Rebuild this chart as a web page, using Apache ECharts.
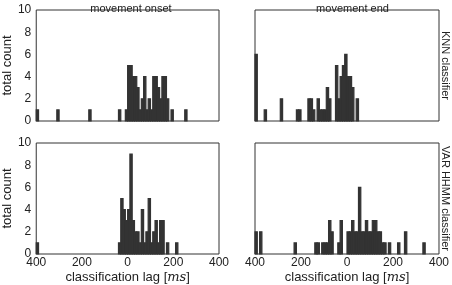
<!DOCTYPE html>
<html>
<head>
<meta charset="utf-8">
<script src="https://cdn.jsdelivr.net/npm/echarts@6/dist/echarts.min.js"></script>
<style>
  html, body { margin: 0; padding: 0; background: #fff; }
  #hist { width: 452px; height: 285px; }
</style>
</head>
<body>
<div id="hist"></div>
<script>
// histogram bins: left edge of each bin in ms, bin width 10 ms
var binWidth = 10;

var knnOnsetBins   = [-400, -310, -170, -40, -10, 0, 10, 20, 30, 40, 50, 60, 70, 80, 90, 100, 110, 120, 130, 140, 150, 160, 170, 190, 250];
var knnOnsetCounts = [1, 1, 1, 1, 1, 5, 5, 4, 4, 3, 1, 2, 4, 1, 2, 1, 4, 4, 3, 2, 4, 4, 2, 1, 1];

var knnEndBins   = [-400, -360, -290, -220, -210, -170, -160, -150, -130, -120, -110, -100, -90, -80, -50, -40, -30, -20, -10, 0, 10, 20, 40];
var knnEndCounts = [6, 1, 2, 1, 1, 2, 2, 1, 2, 1, 1, 1, 3, 2, 5, 2, 4, 5, 6, 4, 4, 3, 2];

var varOnsetBins   = [-400, -40, -30, -20, -10, 0, 10, 20, 30, 40, 50, 60, 70, 80, 90, 100, 110, 120, 130, 140, 150, 170, 210];
var varOnsetCounts = [1, 1, 5, 4, 3, 4, 9, 3, 2, 2, 1, 4, 1, 2, 5, 1, 2, 3, 1, 3, 3, 1, 1];

var varEndBins   = [-400, -380, -230, -140, -130, -110, -100, -90, -80, -70, -40, -30, 0, 10, 20, 30, 40, 50, 60, 70, 80, 90, 100, 110, 120, 130, 140, 150, 160, 180, 220, 250, 330];
var varEndCounts = [2, 2, 1, 1, 1, 1, 1, 1, 3, 2, 1, 3, 2, 2, 3, 2, 2, 6, 2, 2, 3, 2, 2, 3, 3, 2, 2, 1, 1, 1, 1, 2, 1];

var colTitles = ['movement onset', 'movement end'];
var rowTitles = ['KNN classifier', 'VAR HHMM classifier'];
var xTicks = [-400, -200, 0, 200, 400];
var yTicks = [0, 2, 4, 6, 8, 10];

var font = 'Liberation Sans, Arial, sans-serif';
var ink = '#222';

var panels = [
  { bins: knnOnsetBins, counts: knnOnsetCounts, left: 33,  top: 10,  width: 186 },
  { bins: knnEndBins,   counts: knnEndCounts,   left: 255, top: 10,  width: 185 },
  { bins: varOnsetBins, counts: varOnsetCounts, left: 33,  top: 143, width: 186 },
  { bins: varEndBins,   counts: varEndCounts,   left: 255, top: 143, width: 185 }
];

function renderBin(params, api) {
  var x0 = api.value(0);
  var c = api.value(1);
  var p0 = api.coord([x0, c]);
  var p1 = api.coord([x0 + binWidth, 0]);
  return {
    type: 'rect',
    shape: { x: p0[0], y: p0[1], width: p1[0] - p0[0], height: p1[1] - p0[1] },
    style: { fill: '#333', stroke: '#333', lineWidth: 1.2 }
  };
}

var grids = [], xAxes = [], yAxes = [], series = [], titles = [];

panels.forEach(function (p, i) {
  var isLeft = i % 2 === 0;
  var isBottom = i >= 2;
  grids.push({
    left: p.left, top: p.top, width: p.width, height: 111,
    show: true, borderColor: '#333', borderWidth: 1, backgroundColor: '#fff'
  });
  xAxes.push({
    gridIndex: i, type: 'value',
    min: xTicks[0], max: xTicks[xTicks.length - 1], interval: 200,
    axisLine: { show: false }, axisTick: { show: false }, splitLine: { show: false },
    axisLabel: {
      show: isBottom, margin: 3, fontSize: 12, color: ink, fontFamily: font,
      formatter: function (v) { return String(Math.abs(v)); }
    },
    name: isBottom ? '{a|classification lag [}{b|ms}{a|]}' : '',
    nameLocation: 'middle', nameGap: 17,
    nameTextStyle: {
      rich: {
        a: { fontSize: 13, color: ink, fontFamily: font },
        b: { fontSize: 13, color: ink, fontFamily: 'DejaVu Serif, serif', fontStyle: 'italic' }
      }
    }
  });
  yAxes.push({
    gridIndex: i, type: 'value',
    min: yTicks[0], max: yTicks[yTicks.length - 1], interval: 2,
    position: isLeft ? 'left' : 'right',
    axisLine: { show: false }, axisTick: { show: false }, splitLine: { show: false },
    axisLabel: { show: isLeft, margin: 5, fontSize: 12, color: ink, fontFamily: font },
    name: isLeft ? 'total count' : rowTitles[i >> 1],
    nameLocation: 'middle',
    nameGap: isLeft ? 20 : 1,
    nameRotate: isLeft ? 90 : -90,
    nameTextStyle: { fontSize: isLeft ? 13 : 11, color: ink, fontFamily: font }
  });
  series.push({
    type: 'custom', xAxisIndex: i, yAxisIndex: i,
    renderItem: renderBin,
    data: p.bins.map(function (b, k) { return [b, p.counts[k]]; }),
    silent: true, animation: false
  });
  if (!isBottom) {
    titles.push({
      text: colTitles[i],
      left: p.left + p.width / 2, top: -2, textAlign: 'center',
      textStyle: { fontSize: 11, fontWeight: 'normal', color: ink, fontFamily: font }
    });
  }
});

var histChart = echarts.init(document.getElementById('hist'), null, { renderer: 'canvas' });
histChart.setOption({
  animation: false,
  title: titles,
  grid: grids,
  xAxis: xAxes,
  yAxis: yAxes,
  series: series
});
</script>
</body>
</html>
